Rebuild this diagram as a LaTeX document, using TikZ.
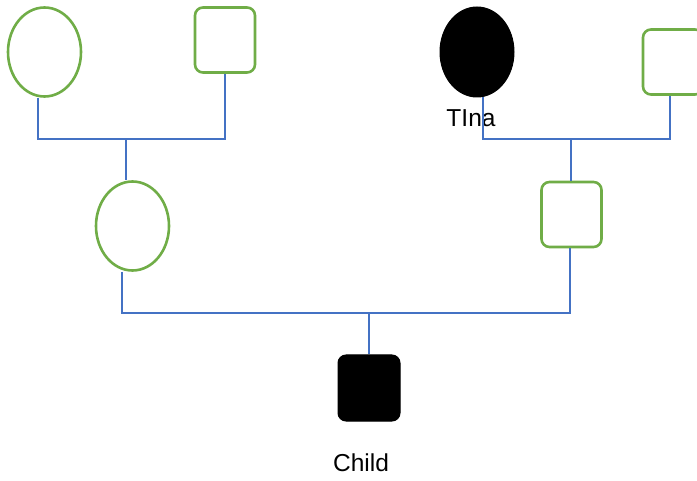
\documentclass[tikz,border=0pt]{standalone}
\usepackage{fontspec}
\setmainfont{Liberation Sans}
\usetikzlibrary{shapes.geometric}
\definecolor{pgreen}{HTML}{70AD47}
\definecolor{pblue}{HTML}{4472C4}
\tikzset{
  fem/.style={ellipse, draw=pgreen, line width=2.6pt, fill=white, minimum width=73pt, minimum height=89pt, inner sep=0pt},
  femf/.style={ellipse, draw=black, fill=black, line width=1pt, minimum width=74pt, minimum height=90pt, inner sep=0pt},
  mal/.style={rectangle, rounded corners=8pt, draw=pgreen, line width=2.6pt, fill=white, minimum width=60pt, minimum height=65pt, inner sep=0pt},
  malf/.style={rectangle, rounded corners=8pt, draw=black, fill=black, line width=1pt, minimum width=62pt, minimum height=66pt, inner sep=0pt},
  conn/.style={draw=pblue, line width=2.5pt},
  lbl/.style={font=\fontsize{24.5}{28}\selectfont, inner sep=0pt}
}
\begin{document}
\begin{tikzpicture}[x=1pt,y=-1pt]
\useasboundingbox (0,0) rectangle (697,481);
\node[fem] (gm1) at (44.5,52) {};
\node[mal] (gf1) at (225,40) {};
\node[femf] (tina) at (477,52) {};
\node[mal] (gf2) at (673,62) {};
\node[fem] (mom) at (132.5,226) {};
\node[mal] (dad) at (571.5,214.5) {};
\node[malf] (child) at (369,388) {};
\node[lbl] (tinalbl) at (471,118) {TIna};
\node[lbl] (childlbl) at (361,463) {Child};
\coordinate (j1) at (126,139);
\coordinate (j2) at (571,139);
\coordinate (j3) at (369,313);
\draw[conn] ([xshift=-6.5pt]gm1.south) |- (j1) -| (gf1.south);
\draw[conn] (j1) -- (j1 |- mom.north);
\draw[conn] ([xshift=6pt]tina.south) |- (j2) -| ([xshift=-3pt]gf2.south);
\draw[conn] (j2) -- (j2 |- dad.north);
\draw[conn] ([xshift=-10.5pt]mom.south) |- (j3) -| ([xshift=-1.5pt]dad.south);
\draw[conn] (j3) -- (child.north);
\end{tikzpicture}
\end{document}
